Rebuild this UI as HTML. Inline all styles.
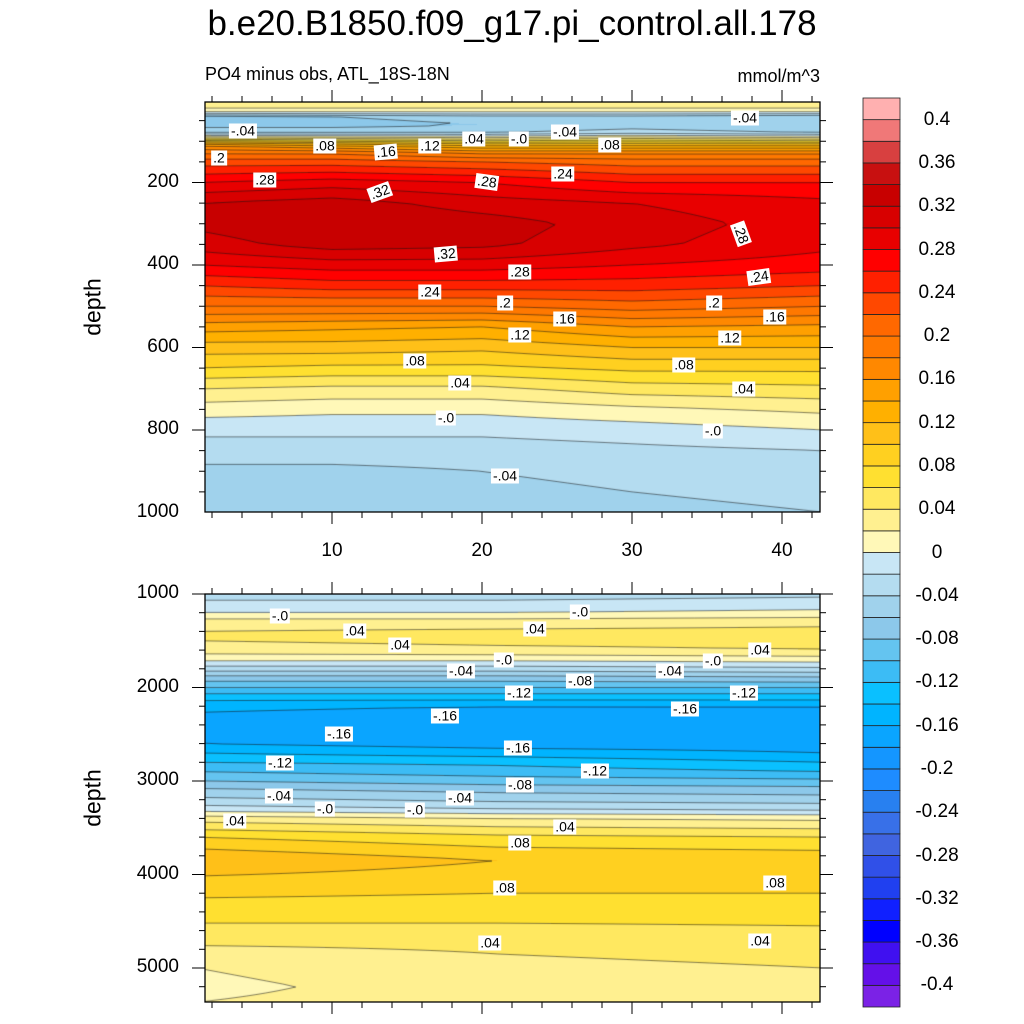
<!DOCTYPE html>
<html><head><meta charset="utf-8">
<style>
html,body{margin:0;padding:0;background:#fff;}
#root{position:relative;width:1024px;height:1024px;overflow:hidden;font-family:"Liberation Sans",Arial,sans-serif;color:#000;}
canvas,svg{position:absolute;left:0;top:0;}
.t{position:absolute;white-space:nowrap;}
.lab{position:absolute;background:#fff;font-size:14px;line-height:15px;padding:0 2px;transform:translate(-50%,-50%);white-space:nowrap;}
.tick{position:absolute;font-size:19px;white-space:nowrap;}
.cb{position:absolute;font-size:19px;transform:translate(-50%,-50%);white-space:nowrap;}
</style></head>
<body>
<div id="root">
<canvas id="cv" width="1024" height="1024"></canvas>
<svg id="ax" width="1024" height="1024"></svg>
<div class="t" style="left:0;width:1024px;text-align:center;top:4px;font-size:35px;">b.e20.B1850.f09_g17.pi_control.all.178</div>
<div class="t" style="left:205px;top:64px;font-size:18px;">PO4 minus obs, ATL_18S-18N</div>
<div class="t" style="right:204px;top:66px;font-size:18px;">mmol/m^3</div>
<div class="t" style="left:93px;top:307px;font-size:23px;transform:translate(-50%,-50%) rotate(-90deg);">depth</div>
<div class="t" style="left:93px;top:798px;font-size:23px;transform:translate(-50%,-50%) rotate(-90deg);">depth</div>
<div id="labels"></div>
</div>
<script>
// ---- data: top panel (0-1000 m) ----
const topCols = [1, 10, 20, 30, 43];
const topDepths = [5,20,30,40,60,80,95,110,130,150,200,250,300,350,400,450,500,550,600,650,700,750,800,850,900,1000];
const topX1  = [0.03,0.02,0.0,-0.07,-0.07,-0.04,0.06,0.16,0.2,0.23,0.28,0.32,0.325,0.31,0.28,0.24,0.2,0.15,0.11,0.08,0.04,0.01,-0.015,-0.03,-0.045,-0.05];
const topX10 = [0.03,0.02,0.0,-0.06,-0.07,-0.04,0.05,0.14,0.2,0.23,0.29,0.33,0.34,0.33,0.29,0.25,0.2,0.145,0.11,0.075,0.035,0.005,-0.015,-0.03,-0.045,-0.05];
const topX20 = [0.03,0.02,0.0,-0.05,-0.06,-0.04,0.04,0.12,0.18,0.22,0.28,0.31,0.33,0.325,0.29,0.25,0.2,0.14,0.105,0.075,0.035,0.005,-0.015,-0.03,-0.04,-0.05];
const topX30 = [0.03,0.02,0.0,-0.05,-0.05,-0.03,0.05,0.12,0.18,0.21,0.26,0.3,0.31,0.305,0.28,0.25,0.21,0.16,0.12,0.085,0.05,0.015,-0.01,-0.025,-0.035,-0.045];
const topX43 = [0.03,0.02,0.0,-0.06,-0.06,-0.04,0.04,0.12,0.18,0.21,0.26,0.285,0.29,0.285,0.27,0.24,0.2,0.155,0.12,0.085,0.055,0.025,0.0,-0.02,-0.03,-0.04];
// ---- data: bottom panel (1000-5365 m) ----
const botCols = [1, 21, 43];
const botDepths = [1000,1100,1200,1300,1450,1600,1700,1800,1900,2000,2100,2200,2400,2600,2700,2800,2900,3000,3100,3200,3300,3400,3600,3850,4100,4400,4700,5000,5200,5365];
const botX1  = [-0.03,-0.015,0.0,0.03,0.045,0.03,0.005,-0.03,-0.07,-0.1,-0.13,-0.155,-0.17,-0.16,-0.14,-0.12,-0.1,-0.08,-0.055,-0.035,-0.01,0.03,0.08,0.12,0.09,0.07,0.045,0.02,0.015,0.02];
const botX21 = [-0.03,-0.015,0.0,0.03,0.05,0.035,0.005,-0.03,-0.07,-0.1,-0.13,-0.16,-0.18,-0.17,-0.15,-0.125,-0.11,-0.09,-0.065,-0.045,-0.02,0.02,0.065,0.1,0.085,0.07,0.045,0.035,0.03,0.03];
const botX43 = [-0.025,-0.01,0.005,0.035,0.05,0.04,0.01,-0.025,-0.065,-0.1,-0.13,-0.16,-0.175,-0.17,-0.16,-0.14,-0.12,-0.095,-0.07,-0.05,-0.025,0.015,0.06,0.095,0.085,0.07,0.05,0.04,0.035,0.035];
// ---- colour scale ----
const cbColors = ["#7b22e6","#6410e8","#4010f0","#0000ff","#1020ff","#2040f0","#3050e8","#4064e0","#3870e8","#2880f0","#1e8cff","#1496ff","#0aa5ff","#00b4ff","#0ac0ff","#3cbcf5","#64c4f0","#8cc8ea","#a0d2ec","#b4dcf0","#c8e6f5","#fff8b8","#fff090","#ffe860","#ffe030","#ffd020","#ffc018","#ffb000","#ffa000","#ff8800","#ff7800","#ff6800","#ff4800","#ff2000","#ff0000","#e80000","#d80000","#c80000","#c81010","#d84040","#f07878","#ffb0b0"];
const cbLabels = ["0.4","0.36","0.32","0.28","0.24","0.2","0.16","0.12","0.08","0.04","0","-0.04","-0.08","-0.12","-0.16","-0.2","-0.24","-0.28","-0.32","-0.36","-0.4"];
const xTickLabels = [10,20,30,40];
const topYTicks = [200,400,600,800,1000];
const botYTicks = [1000,2000,3000,4000,5000];
const cMin=-0.4, cStep=0.02;

const SVGNS="http://www.w3.org/2000/svg";
const ax=document.getElementById('ax');
function sv(tag,attrs,name){const e=document.createElementNS(SVGNS,tag);for(const k in attrs)e.setAttribute(k,attrs[k]);


ax.appendChild(e);return e;}

const X0=205,X1=820;
function xPix(x){return 332+(x-10)*15;}
function xVal(px){return 10+(px-332)/15;}
const panels=[
 {name:'top',y0:102,y1:512,cols:topCols,depths:topDepths,prof:[topX1,topX10,topX20,topX30,topX43],
  dy:d=>100+d*0.4125, dv:py=>(py-100)/0.4125, ticks:topYTicks, minor:50},
 {name:'bottom',y0:594,y1:1002,cols:botCols,depths:botDepths,prof:[botX1,botX21,botX43],
  dy:d=>594+(d-1000)*0.0935, dv:py=>1000+(py-594)/0.0935, ticks:botYTicks, minor:200}
];
function profAt(depths,vals,d){
  if(d<=depths[0])return vals[0];
  for(let i=0;i<depths.length-1;i++){if(d<=depths[i+1]){const t=(d-depths[i])/(depths[i+1]-depths[i]);return vals[i]+t*(vals[i+1]-vals[i]);}}
  return vals[vals.length-1];
}
function valAt(p,px,py){
  const d=p.dv(py), x=xVal(px);
  const cv=p.prof.map(a=>profAt(p.depths,a,d));
  const c=p.cols;
  if(x<=c[0])return cv[0];
  for(let i=0;i<c.length-1;i++){if(x<=c[i+1]){const t=(x-c[i])/(c[i+1]-c[i]);return cv[i]+t*(cv[i+1]-cv[i]);}}
  return cv[cv.length-1];
}
function cIdx(v){let i=Math.floor((v-cMin)/cStep+1e-6)+1;return Math.max(0,Math.min(cbColors.length-1,i));}
function hex(h){return [parseInt(h.substr(1,2),16),parseInt(h.substr(3,2),16),parseInt(h.substr(5,2),16)];}
const rgb=cbColors.map(hex);

const cv=document.getElementById('cv'),ctx=cv.getContext('2d');
panels.forEach(p=>{
  const w=X1-X0,h=p.y1-p.y0;
  const img=ctx.createImageData(w,h);
  for(let j=0;j<h;j++){for(let i=0;i<w;i++){
    const c=rgb[cIdx(valAt(p,X0+i+0.5,p.y0+j+0.5))];const k=(j*w+i)*4;
    img.data[k]=c[0];img.data[k+1]=c[1];img.data[k+2]=c[2];img.data[k+3]=255;}}
  ctx.putImageData(img,X0,p.y0);
  const st=3,nx=Math.ceil(w/st),ny=Math.ceil(h/st);
  const G=[];for(let j=0;j<=ny;j++){const r=[];for(let i=0;i<=nx;i++)r.push(valAt(p,X0+Math.min(i*st,w),p.y0+Math.min(j*st,h)));G.push(r);}
  ctx.save();ctx.beginPath();ctx.rect(X0,p.y0,w,h);ctx.clip();
  ctx.strokeStyle='rgba(20,20,20,0.75)';ctx.lineWidth=0.7;ctx.beginPath();
  for(let L=0;L<=40;L++){const lv=cMin+L*cStep+1e-9;
    for(let j=0;j<ny;j++)for(let i=0;i<nx;i++){
      const xa=X0+i*st,xb=X0+Math.min((i+1)*st,w),ya=p.y0+j*st,yb=p.y0+Math.min((j+1)*st,h);
      const a=G[j][i],b=G[j][i+1],c=G[j+1][i+1],d=G[j+1][i];
      const pts=[];
      if((a-lv)*(b-lv)<0)pts.push([xa+(lv-a)/(b-a)*(xb-xa),ya]);
      if((b-lv)*(c-lv)<0)pts.push([xb,ya+(lv-b)/(c-b)*(yb-ya)]);
      if((d-lv)*(c-lv)<0)pts.push([xa+(lv-d)/(c-d)*(xb-xa),yb]);
      if((a-lv)*(d-lv)<0)pts.push([xa,ya+(lv-a)/(d-a)*(yb-ya)]);
      for(let q=0;q+1<pts.length;q+=2){ctx.moveTo(pts[q][0],pts[q][1]);ctx.lineTo(pts[q+1][0],pts[q+1][1]);}
    }}
  ctx.stroke();ctx.restore();
  sv('rect',{x:X0,y:p.y0,width:w,height:h,fill:'none',stroke:'#000','stroke-width':1.3},p.name+'-plot-frame');
  for(let x=2;x<=42;x+=2){const px=xPix(x);const maj=x%10===0;const L=maj?12:6;
    sv('line',{x1:px,x2:px,y1:p.y0,y2:p.y0-L,stroke:'#000','stroke-width':1},p.name+'-x-tick-top');
    sv('line',{x1:px,x2:px,y1:p.y1,y2:p.y1+L,stroke:'#000','stroke-width':1},p.name+'-x-tick-bottom');}
  const dTop=p.dv(p.y0),dBot=p.dv(p.y1);
  for(let d=Math.ceil(dTop/p.minor)*p.minor;d<=dBot+0.1;d+=p.minor){const py=p.dy(d);const maj=p.ticks.includes(d);const L=maj?13:6;
    sv('line',{x1:X0,x2:X0-L,y1:py,y2:py,stroke:'#000','stroke-width':1},p.name+'-y-tick-left');
    sv('line',{x1:X1,x2:X1+L,y1:py,y2:py,stroke:'#000','stroke-width':1},p.name+'-y-tick-right');}
});
const root=document.getElementById('root');
function addDiv(cls,txt,style,name){const e=document.createElement('div');e.className=cls;e.textContent=txt;e.setAttribute('style',style);


root.appendChild(e);return e;}
xTickLabels.forEach(v=>{addDiv('tick',String(v),'left:'+(xPix(v)-30)+'px;width:60px;text-align:center;top:540px;','x-tick-label');});
panels.forEach(p=>{p.ticks.forEach(d=>{addDiv('tick',String(d),'right:'+(1024-179)+'px;top:'+(p.dy(d)-12)+'px;',p.name+'-y-tick-label');});});
const cbX=863,cbW=37,cbTop=98,cbH=909,bh=cbH/cbColors.length;
cbColors.forEach((c,i)=>{const y=cbTop+cbH-(i+1)*bh;
  sv('rect',{x:cbX,y:y,width:cbW,height:bh,fill:c,stroke:'#222','stroke-width':0.8},'colorbar-box');});
cbLabels.forEach((t,i)=>{const y=cbTop+bh*(1+2*i);addDiv('cb',t,'left:937px;top:'+y+'px;','colorbar-label');});
const cl=[["-.04",243,131,0],[".08",325,146,0],[".16",386,152,-5],[".12",430,146,0],[".04",474,139,0],["-.0",519,139,0],["-.04",565,132,0],[".08",610,145,0],["-.04",745,118,0],[".2",219,158,0],[".28",265,180,0],[".32",380,192,-20],[".28",487,182,8],[".24",563,174,0],[".32",446,254,-5],[".28",741,234,70],[".28",520,272,0],[".24",430,292,0],[".2",505,303,0],[".16",565,319,0],[".24",759,277,-8],[".2",714,303,0],[".16",775,317,0],[".12",520,335,0],[".12",730,338,0],[".08",415,361,0],[".08",684,365,0],[".04",460,383,0],[".04",744,389,0],["-.0",446,418,0],["-.0",713,431,0],["-.04",505,476,0],
["-.0",280,616,0],[".04",355,631,0],[".04",400,645,0],[".04",535,629,0],["-.0",580,612,0],["-.0",504,660,0],["-.04",461,671,0],["-.08",580,681,0],["-.04",670,671,0],["-.0",713,661,0],[".04",760,650,0],["-.12",519,693,0],["-.12",744,693,0],["-.16",685,709,0],["-.16",445,716,0],["-.16",339,734,0],["-.16",518,748,0],["-.12",280,763,0],["-.12",595,771,0],["-.08",520,785,0],["-.04",279,796,0],["-.0",325,809,0],["-.0",415,810,0],["-.04",460,798,0],[".04",235,821,0],[".04",565,827,0],[".08",520,843,0],[".08",505,888,0],[".08",775,883,0],[".04",490,943,0],[".04",760,941,0]];
cl.forEach(a=>{addDiv('lab',a[0],'left:'+a[1]+'px;top:'+a[2]+'px;transform:translate(-50%,-50%) rotate('+a[3]+'deg);','contour-label');});
</script>
</body></html>
